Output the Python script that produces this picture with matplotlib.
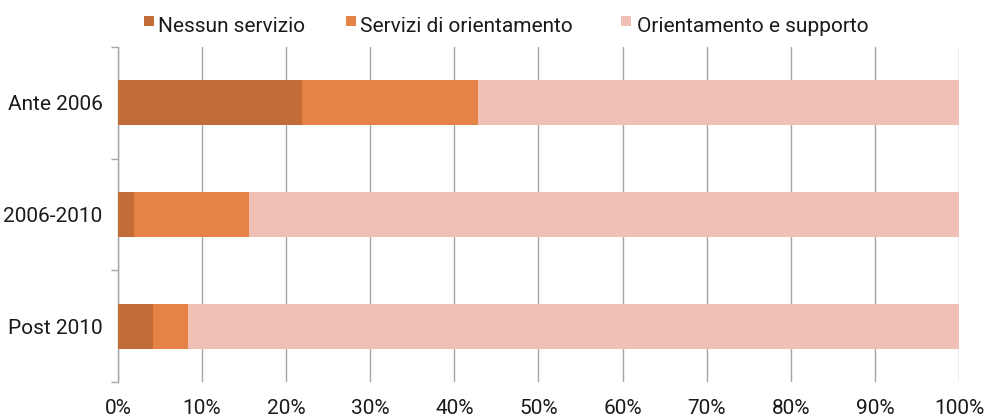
import matplotlib
matplotlib.use("Agg")
import matplotlib.pyplot as plt
from matplotlib.patches import Rectangle
import numpy as np

categories = ["Ante 2006", "2006-2010", "Post 2010"]
series_names = ["Nessun servizio", "Servizi di orientamento", "Orientamento e supporto"]
nessun = [21.9, 1.9, 4.2]
orientamento = [20.9, 13.7, 4.1]
supporto = [57.2, 84.4, 91.7]
xticks = [0, 10, 20, 30, 40, 50, 60, 70, 80, 90, 100]
xtick_labels = [f"{v}%" for v in xticks]

colors = ["#C46C38", "#E58245", "#EFC0B3"]
W, H = 987, 419

plt.rcParams['font.family'] = ['Roboto', 'DejaVu Sans']

fig = plt.figure(figsize=(W/100, H/100), dpi=100)
ax = fig.add_axes([118/W, 37/H, (959-118)/W, (382-47)/H])

y = np.arange(len(categories))[::-1]
left = np.zeros(len(categories))
for vals, col, name in zip([nessun, orientamento, supporto], colors, series_names):
    ax.barh(y, vals, left=left, height=0.4, color=col, label=name, zorder=3,
            edgecolor='none')
    left += np.array(vals)

ax.set_xlim(0, 100)
ax.set_ylim(-0.5, 2.5)
ax.set_xticks(xticks)
ax.set_xticklabels(xtick_labels, fontsize=15, color="#1a1a1a")
ax.tick_params(axis='x', length=0, pad=12)
ax.xaxis.grid(True, color="#a6a6a6", linewidth=1, zorder=0)

ax.set_yticks(y)
ax.set_yticklabels(categories, fontsize=15, color="#1a1a1a")
ax.set_yticks([-0.5, 0.5, 1.5, 2.5], minor=True)
ax.tick_params(axis='y', which='major', length=0, pad=11)
ax.tick_params(axis='y', which='minor', length=5, color="#a6a6a6", width=1)

for s in ['top', 'right', 'bottom']:
    ax.spines[s].set_visible(False)
ax.spines['left'].set_color("#a6a6a6")
ax.spines['left'].set_linewidth(1)

# manual legend
sq_x = [144, 346, 621]
tx_x = [158, 360, 637]
for sx, tx, col, name in zip(sq_x, tx_x, colors, series_names):
    fig.patches.append(Rectangle((sx/W, 1 - 26/H), 10/W, 10/H, transform=fig.transFigure,
                                 facecolor=col, edgecolor='none'))
    fig.text(tx/W, 1 - 32/H, name, fontsize=15, color="#1a1a1a", ha='left', va='baseline')

fig.savefig("out.png", dpi=100)
